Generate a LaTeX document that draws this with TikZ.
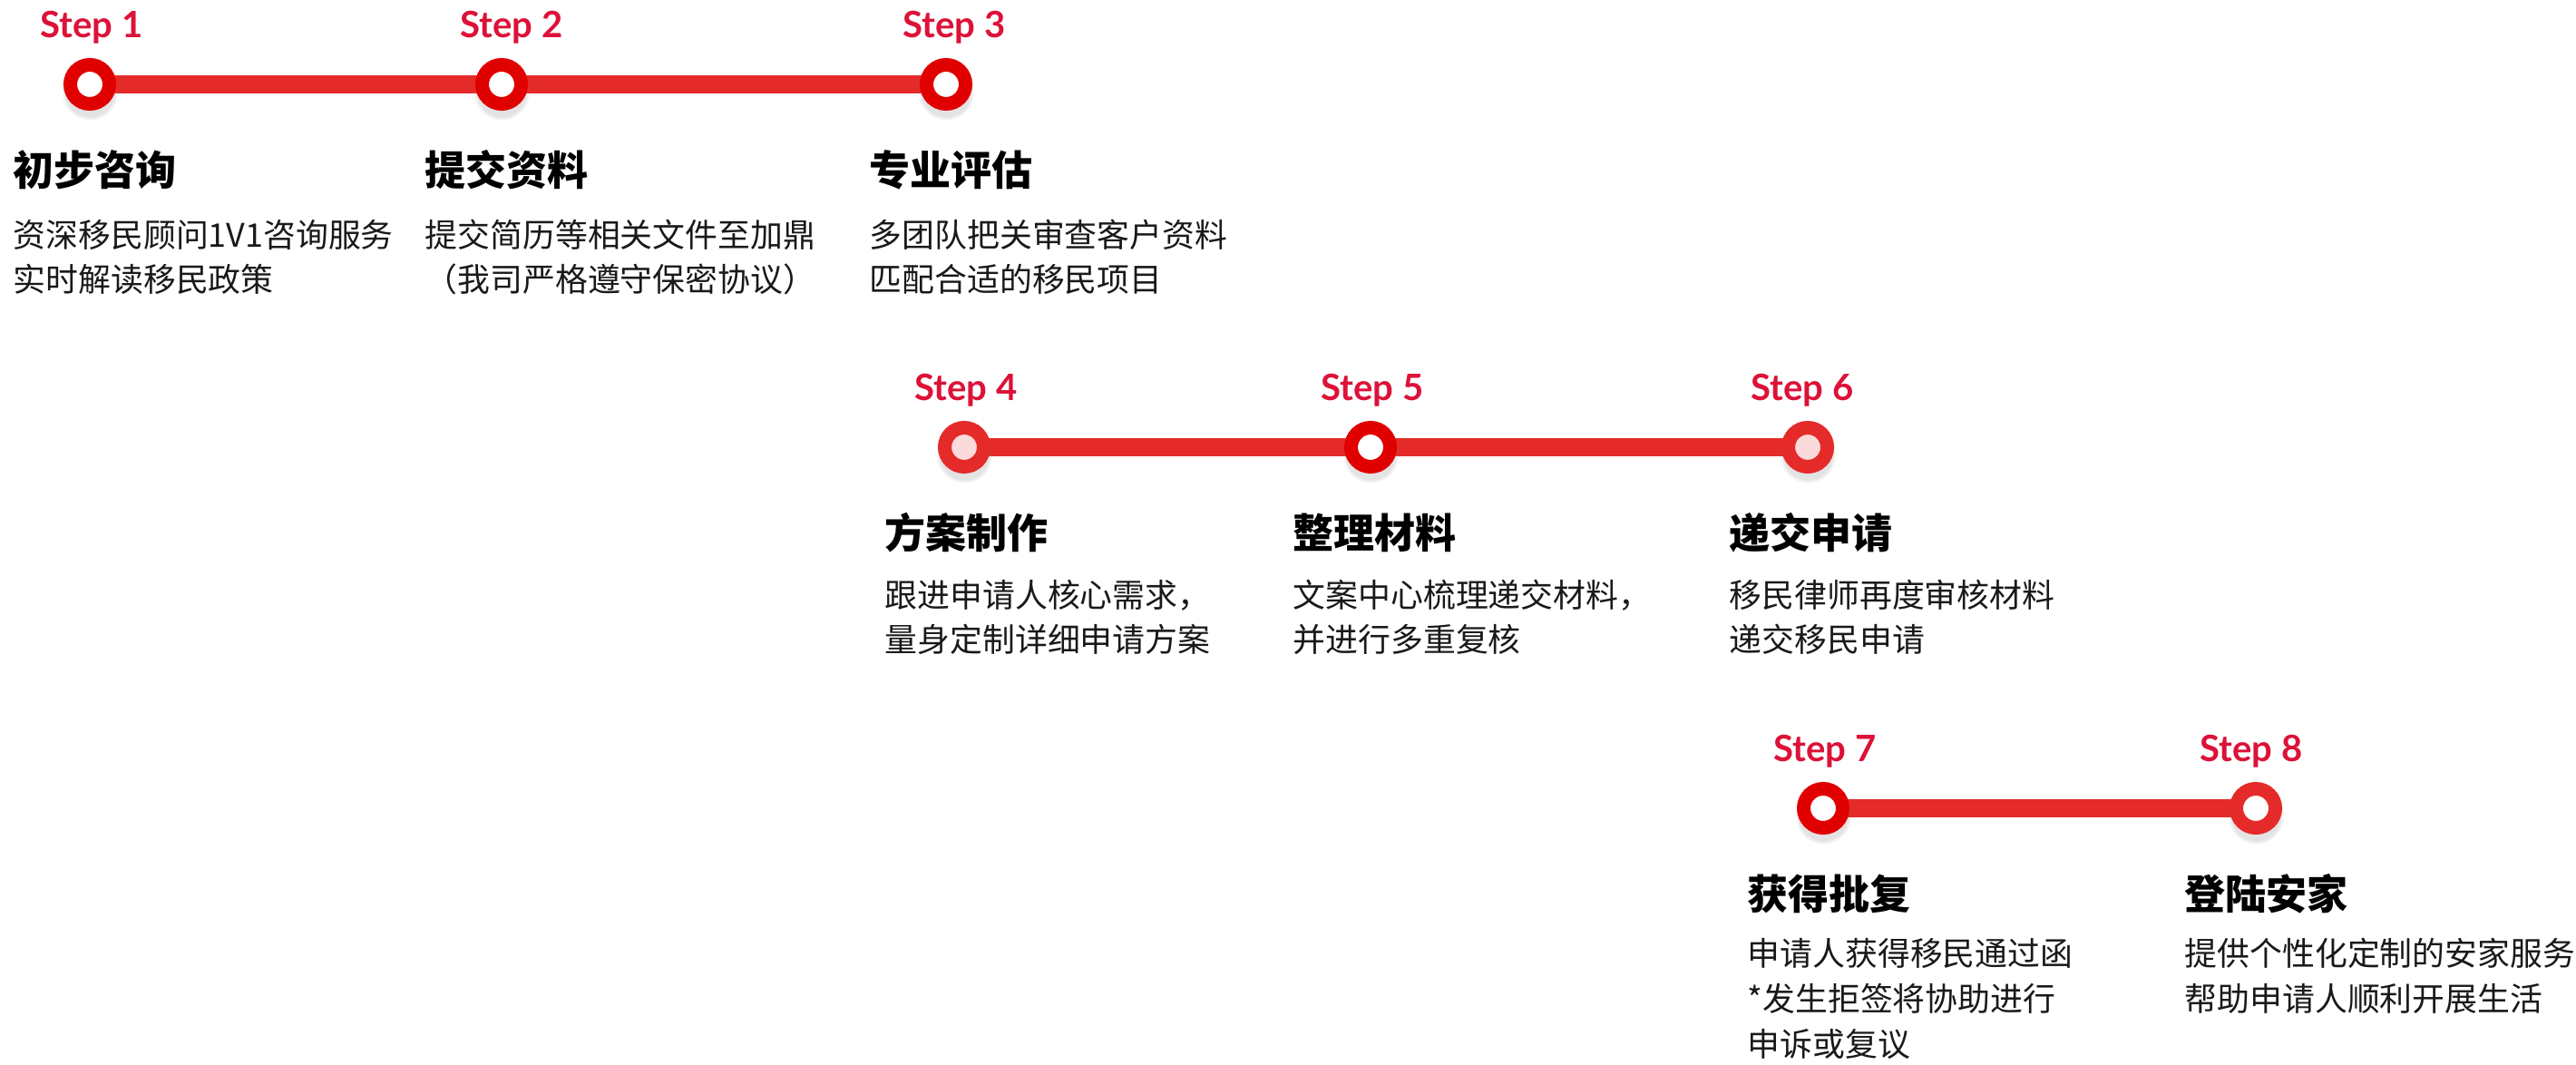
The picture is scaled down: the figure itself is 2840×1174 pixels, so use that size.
\documentclass[tikz,border=0pt]{standalone}
\usepackage{fontspec}
\setmainfont{Lato}
\newfontfamily\cjk{Noto Sans CJK SC}
\usepackage{xcolor}
\usepackage{tikz}
\usetikzlibrary{shadows}
\definecolor{rosso}{HTML}{E52A2A}
\definecolor{rossoscuro}{HTML}{E10000}
\definecolor{cremisi}{HTML}{DC1238}
\definecolor{rosa}{HTML}{FADADB}

\tikzset{
  dot/.style={circle, draw=rossoscuro, line width=0.15cm, fill=white,
    minimum size=0.43cm, inner sep=0pt,
    circular drop shadow={shadow xshift=0cm, shadow yshift=-0.06cm,
      shadow scale=1.45, opacity=.22}},
  dotchiaro/.style={dot, draw=rosso},
  dotrosa/.style={dot, draw=rosso, fill=rosa},
  bar/.style={rosso, line width=0.2cm},
  steplbl/.style={anchor=base, text=cremisi, font=\bfseries\fontsize{11.4pt}{13pt}\selectfont},
  titolo/.style={anchor=base west, inner sep=0pt, font=\cjk\bfseries\fontsize{12.8pt}{15pt}\selectfont},
  % base of a multi-line node = baseline of its last line
  testo/.style={anchor=base west, inner sep=0pt, align=left, text=black!90,
    font=\cjk\fontsize{10.2pt}{14.2pt}\selectfont}
}

\begin{document}
\begin{tikzpicture}[x=0.01cm, y=-0.01cm]
        \useasboundingbox (0,0) rectangle (2840,1174);
        % row 1
        \coordinate (c1) at (99,93);
        \coordinate (c2) at (553,93);
        \coordinate (c3) at (1043,93);
        \draw[bar] (c1) -- (c2) -- (c3);
        \node[dot] (s1) at (c1) {};
        \node[dot] (s2) at (c2) {};
        \node[dot] (s3) at (c3) {};
        \node[steplbl] (l1) at (101,42)  {Step 1};
        \node[steplbl] (l2) at (564,42)  {Step 2};
        \node[steplbl] (l3) at (1052,42) {Step 3};
        \node[titolo] (t1) at (14,205)  {初步咨询};
        \node[titolo] (t2) at (468,205) {提交资料};
        \node[titolo] (t3) at (958,205) {专业评估};
        \node[testo] (d1) at (14,322)  {资深移民顾问1V1咨询服务\\实时解读移民政策};
        \node[testo] (d2) at (468,322) {提交简历等相关文件至加鼎\\（我司严格遵守保密协议）};
        \node[testo] (d3) at (958,322) {多团队把关审查客户资料\\匹配合适的移民项目};
        % row 2
        \coordinate (c4) at (1063,493);
        \coordinate (c5) at (1511,493);
        \coordinate (c6) at (1993,493);
        \draw[bar] (c4) -- (c5) -- (c6);
        \node[dotrosa] (s4) at (c4) {};
        \node[dot]     (s5) at (c5) {};
        \node[dotrosa] (s6) at (c6) {};
        \node[steplbl] (l4) at (1065,442) {Step 4};
        \node[steplbl] (l5) at (1513,442) {Step 5};
        \node[steplbl] (l6) at (1987,442) {Step 6};
        \node[titolo] (t4) at (975,605)  {方案制作};
        \node[titolo] (t5) at (1425,605) {整理材料};
        \node[titolo] (t6) at (1906,605) {递交申请};
        \node[testo] (d4) at (975,719)  {跟进申请人核心需求，\\量身定制详细申请方案};
        \node[testo] (d5) at (1425,719) {文案中心梳理递交材料，\\并进行多重复核};
        \node[testo] (d6) at (1906,719) {移民律师再度审核材料\\递交移民申请};
        % row 3
        \coordinate (c7) at (2010,891);
        \coordinate (c8) at (2487,891);
        \draw[bar] (c7) -- (c8);
        \node[dot]       (s7) at (c7) {};
        \node[dotchiaro] (s8) at (c8) {};
        \node[steplbl] (l7) at (2012,840) {Step 7};
        \node[steplbl] (l8) at (2482,840) {Step 8};
        \node[titolo] (t7) at (1926,1003) {获得批复};
        \node[titolo] (t8) at (2408,1003) {登陆安家};
        \node[testo] (d7) at (1926,1164) {申请人获得移民通过函\\*发生拒签将协助进行\\申诉或复议};
        \node[testo] (d8) at (2408,1114) {提供个性化定制的安家服务\\帮助申请人顺利开展生活};
    \end{tikzpicture}
\end{document}
